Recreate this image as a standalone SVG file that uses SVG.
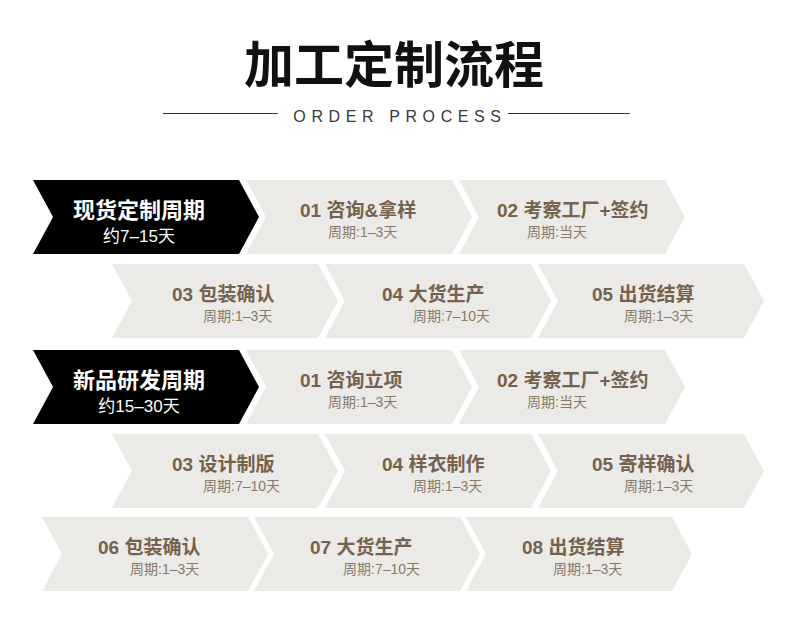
<svg xmlns="http://www.w3.org/2000/svg" xmlns:xlink="http://www.w3.org/1999/xlink" width="788" height="640" viewBox="0 0 788 640">
<defs>
<path id="chev" d="M0,0 H206 L226,37 L206,74 H0 L20,37 Z"/>
<style>
.bg{fill:#ffffff}
.g{fill:#ebeae6}
.k{fill:#000000}
.t{font-family:"Liberation Sans","Noto Sans CJK SC",sans-serif;font-size:19px;font-weight:bold;fill:#76614e}
.s{font-family:"Liberation Sans","Noto Sans CJK SC",sans-serif;font-size:14px;fill:#8a7968}
.kt{font-family:"Liberation Sans","Noto Sans CJK SC",sans-serif;font-size:22px;font-weight:bold;fill:#ffffff;text-anchor:middle}
.ks{font-family:"Liberation Sans","Noto Sans CJK SC",sans-serif;font-size:17px;fill:#ffffff;text-anchor:middle}
.h{font-family:"Noto Sans CJK SC",sans-serif;font-size:50px;font-weight:bold;fill:#111111;text-anchor:middle}
.e{font-family:"Liberation Sans",sans-serif;font-size:16px;letter-spacing:5.6px;fill:#3a3a3a;text-anchor:middle}
.ln{stroke:#333333;stroke-width:1}
</style>
</defs>
<rect class="bg" x="0" y="0" width="788" height="640"/>
<g id="header">
<text class="h" x="394" y="83">加工定制流程</text>
<line class="ln" x1="163" y1="113.5" x2="278" y2="113.5"/>
<line class="ln" x1="508" y1="113.5" x2="630" y2="113.5"/>
<text class="e" x="400" y="122">ORDER PROCESS</text>
</g>
<g id="connectors"/>
<!-- Row 1 -->
<g id="r1-head"><use href="#chev" xlink:href="#chev" class="k" x="33" y="180"/><text class="kt" x="139" y="218">现货定制周期</text><text class="ks" x="139" y="242">约7–15天</text></g>
<g id="r1-01"><use href="#chev" xlink:href="#chev" class="g" x="246" y="180"/><text class="t" x="300" y="217">01 咨询&amp;拿样</text><text class="s" x="328" y="237">周期:1–3天</text></g>
<g id="r1-02"><use href="#chev" xlink:href="#chev" class="g" x="459" y="180"/><text class="t" x="497" y="217">02 考察工厂+签约</text><text class="s" x="527" y="237">周期:当天</text></g>
<!-- Row 2 -->
<g id="r1-03"><use href="#chev" xlink:href="#chev" class="g" x="112" y="264"/><text class="t" x="172" y="301">03 包装确认</text><text class="s" x="203" y="321">周期:1–3天</text></g>
<g id="r1-04"><use href="#chev" xlink:href="#chev" class="g" x="325" y="264"/><text class="t" x="382" y="301">04 大货生产</text><text class="s" x="413" y="321">周期:7–10天</text></g>
<g id="r1-05"><use href="#chev" xlink:href="#chev" class="g" x="538" y="264"/><text class="t" x="592" y="301">05 出货结算</text><text class="s" x="624" y="321">周期:1–3天</text></g>
<!-- Row 3 -->
<g id="r2-head"><use href="#chev" xlink:href="#chev" class="k" x="33" y="350"/><text class="kt" x="139" y="388">新品研发周期</text><text class="ks" x="139" y="412">约15–30天</text></g>
<g id="r2-01"><use href="#chev" xlink:href="#chev" class="g" x="246" y="350"/><text class="t" x="300" y="387">01 咨询立项</text><text class="s" x="328" y="407">周期:1–3天</text></g>
<g id="r2-02"><use href="#chev" xlink:href="#chev" class="g" x="459" y="350"/><text class="t" x="497" y="387">02 考察工厂+签约</text><text class="s" x="527" y="407">周期:当天</text></g>
<!-- Row 4 -->
<g id="r2-03"><use href="#chev" xlink:href="#chev" class="g" x="112" y="434"/><text class="t" x="172" y="471">03 设计制版</text><text class="s" x="203" y="491">周期:7–10天</text></g>
<g id="r2-04"><use href="#chev" xlink:href="#chev" class="g" x="325" y="434"/><text class="t" x="382" y="471">04 样衣制作</text><text class="s" x="413" y="491">周期:1–3天</text></g>
<g id="r2-05"><use href="#chev" xlink:href="#chev" class="g" x="538" y="434"/><text class="t" x="592" y="471">05 寄样确认</text><text class="s" x="624" y="491">周期:1–3天</text></g>
<!-- Row 5 -->
<g id="r2-06"><use href="#chev" xlink:href="#chev" class="g" x="42" y="517"/><text class="t" x="98" y="554">06 包装确认</text><text class="s" x="130" y="574">周期:1–3天</text></g>
<g id="r2-07"><use href="#chev" xlink:href="#chev" class="g" x="254" y="517"/><text class="t" x="310" y="554">07 大货生产</text><text class="s" x="343" y="574">周期:7–10天</text></g>
<g id="r2-08"><use href="#chev" xlink:href="#chev" class="g" x="466" y="517"/><text class="t" x="522" y="554">08 出货结算</text><text class="s" x="553" y="574">周期:1–3天</text></g>
</svg>
